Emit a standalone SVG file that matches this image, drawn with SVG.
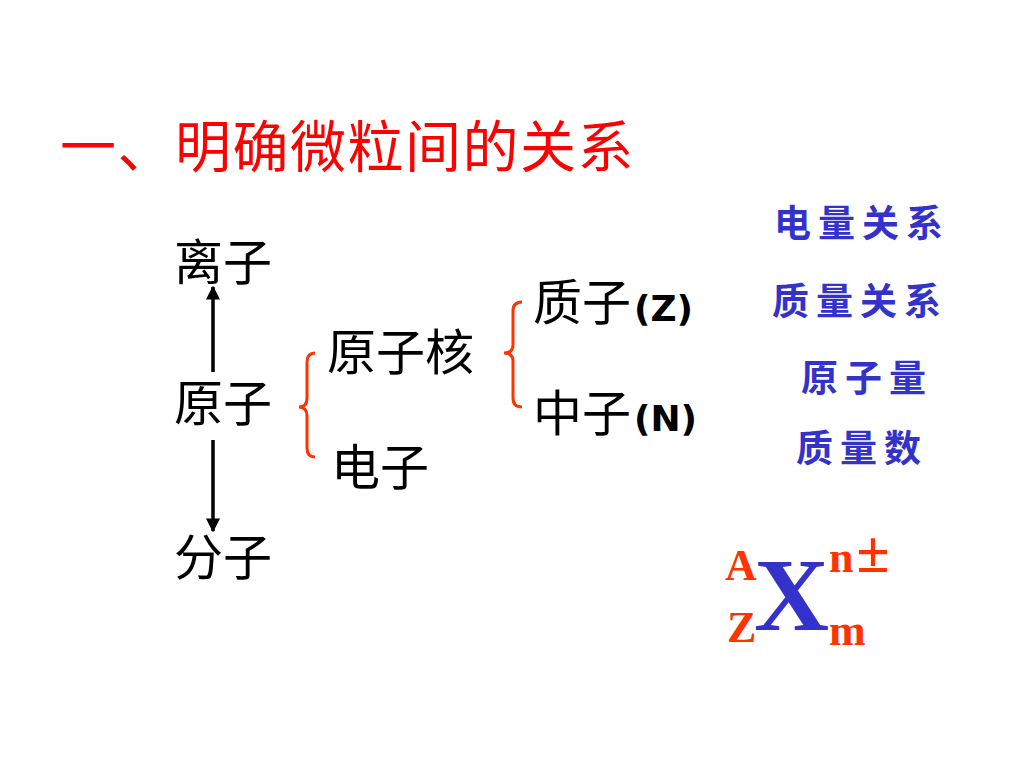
<svg xmlns="http://www.w3.org/2000/svg" width="1024" height="768" viewBox="0 0 1024 768">
<defs>
<style>
.cn{font-family:"Noto Sans CJK SC","Noto Sans CJK TC",serif;fill:#000;font-size:49px}
.title{font-family:"Noto Sans CJK SC",serif;fill:#ff0000;font-size:56px;letter-spacing:1.5px}
.blue{font-family:"Noto Sans CJK SC",serif;fill:#3333cc;font-size:37px;font-weight:bold;letter-spacing:7px}
.lat{font-family:"DejaVu Sans","Liberation Sans",sans-serif;font-weight:bold;font-size:36px;fill:#000}
.sym{font-family:"Liberation Serif",serif;font-weight:bold;fill:#ff3300}
.brace{fill:none;stroke:#ff3300;stroke-width:3}
.conn{stroke:#000;stroke-width:3.5;fill:none}
</style>
<marker id="ah" viewBox="0 0 10 10" refX="9" refY="5" markerWidth="4" markerHeight="4" orient="auto" markerUnits="strokeWidth">
<path d="M0,0 L10,5 L0,10 z" fill="#000"/>
</marker>
</defs>
<rect width="1024" height="768" fill="#fff"/>
<text class="title" x="60" y="167">一、明确微粒间的关系</text>
<g id="connectors">
<line class="conn" x1="213" y1="372" x2="213" y2="287" marker-end="url(#ah)"/>
<line class="conn" x1="213" y1="440" x2="213" y2="531" marker-end="url(#ah)"/>
</g>
<g id="brace1"><path class="brace" d="M315,353 Q307,353 307,362 L307,398 Q307,407 299,407 Q307,407 307,416 L307,448 Q307,457 315,457"/></g>
<g id="brace2"><path class="brace" d="M522,302 Q513,302 513,311 L513,345 Q513,353 504,353 Q513,353 513,361 L513,398 Q513,407 522,407"/></g>
<g id="n-lizi"><text class="cn" x="174" y="280">离子</text></g>
<g id="n-yuanzi"><text class="cn" x="174" y="421">原子</text></g>
<g id="n-fenzi"><text class="cn" x="174" y="575">分子</text></g>
<g id="n-yuanzihe"><text class="cn" x="327" y="370">原子核</text></g>
<g id="n-dianzi"><text class="cn" x="331" y="485">电子</text></g>
<g id="n-zhizi"><text class="cn" x="533" y="320">质子</text><text class="lat" x="634" y="321">(Z)</text></g>
<g id="n-zhongzi"><text class="cn" x="533" y="431">中子</text><text class="lat" x="634" y="431">(N)</text></g>
<g id="blue-notes">
<text class="blue" x="774" y="237">电量关系</text>
<text class="blue" x="772" y="315">质量关系</text>
<text class="blue" x="801" y="392">原子量</text>
<text class="blue" x="796" y="462">质量数</text>
</g>
<g id="formula">
<text class="sym" x="725" y="580" font-size="44">A</text>
<text class="sym" x="727" y="642" font-size="44">Z</text>
<text x="754" y="630" font-family="Liberation Serif,serif" font-weight="bold" font-size="104" fill="#3333cc">X</text>
<text class="sym" x="829" y="572" font-size="44">n<tspan font-size="60" dx="3">±</tspan></text>
<text class="sym" x="829" y="645" font-size="44">m</text>
</g>
</svg>
